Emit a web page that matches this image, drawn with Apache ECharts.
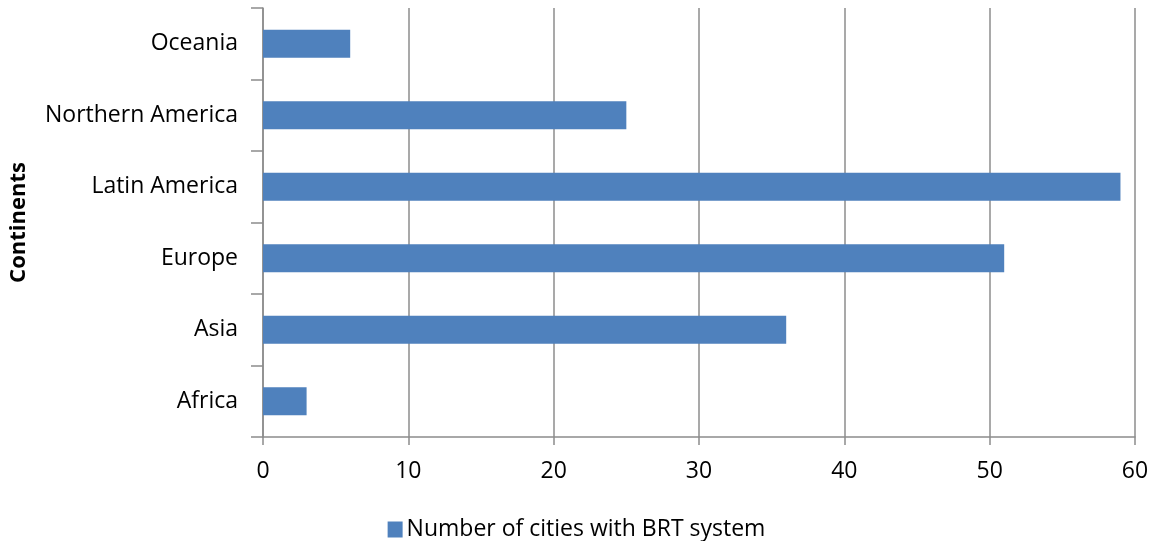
<!DOCTYPE html>
<html>
<head>
<meta charset="utf-8">
<script src="https://cdn.jsdelivr.net/npm/echarts@6/dist/echarts.min.js"></script>
<style>
  html, body { margin: 0; padding: 0; background: #fff; }
  #chart { width: 1153px; height: 541px; }
</style>
</head>
<body>
<div id="chart"></div>
<script>
// Cities with a bus rapid transit (BRT) system, by continent
const continents = ['Africa', 'Asia', 'Europe', 'Latin America', 'Northern America', 'Oceania'];
const brtCities = [3, 36, 51, 59, 25, 6];
const seriesName = 'Number of cities with BRT system';
const axisTitle = 'Continents';

const FONT = '"Open Sans", "Liberation Sans", sans-serif';
const GRID_COLOR = '#8c8c8c';

const chart = echarts.init(document.getElementById('chart'), null, { renderer: 'canvas' });

chart.setOption({
  animation: false,
  backgroundColor: '#ffffff',
  textStyle: { fontFamily: FONT },
  grid: { left: 262, right: 18, top: 8, bottom: 104, containLabel: false },
  legend: {
    data: [seriesName],
    left: 'center',
    top: 513,
    itemWidth: 15,
    itemHeight: 16,
    itemGap: 6,
    icon: 'rect',
    textStyle: { fontFamily: FONT, fontSize: 23, color: '#000', padding: [0, 0, 0, -1] }
  },
  xAxis: {
    type: 'value',
    min: 0,
    max: 60,
    interval: 10,
    axisLine: { show: true, lineStyle: { color: GRID_COLOR, width: 1.5 } },
    axisTick: { show: true, length: 8, lineStyle: { color: GRID_COLOR, width: 1.5 } },
    splitLine: { show: true, lineStyle: { color: GRID_COLOR, width: 1.5 } },
    axisLabel: { color: '#000', fontSize: 23, fontFamily: FONT, margin: 23 }
  },
  yAxis: {
    type: 'category',
    data: continents,
    name: axisTitle,
    nameLocation: 'middle',
    nameRotate: 90,
    nameGap: 233,
    nameTextStyle: { fontFamily: FONT, fontSize: 22, fontWeight: 'bold', color: '#000' },
    axisLine: { show: true, lineStyle: { color: GRID_COLOR, width: 1.5 } },
    axisTick: { show: true, length: 12, alignWithLabel: false, lineStyle: { color: GRID_COLOR, width: 1.5 } },
    splitLine: { show: false },
    axisLabel: { color: '#000', fontSize: 23, fontFamily: FONT, margin: 25, padding: [3, 0, 0, 0] }
  },
  series: [{
    name: seriesName,
    type: 'bar',
    data: brtCities,
    barWidth: 28,
    itemStyle: { color: '#4F81BD' }
  }]
});
</script>
</body>
</html>
